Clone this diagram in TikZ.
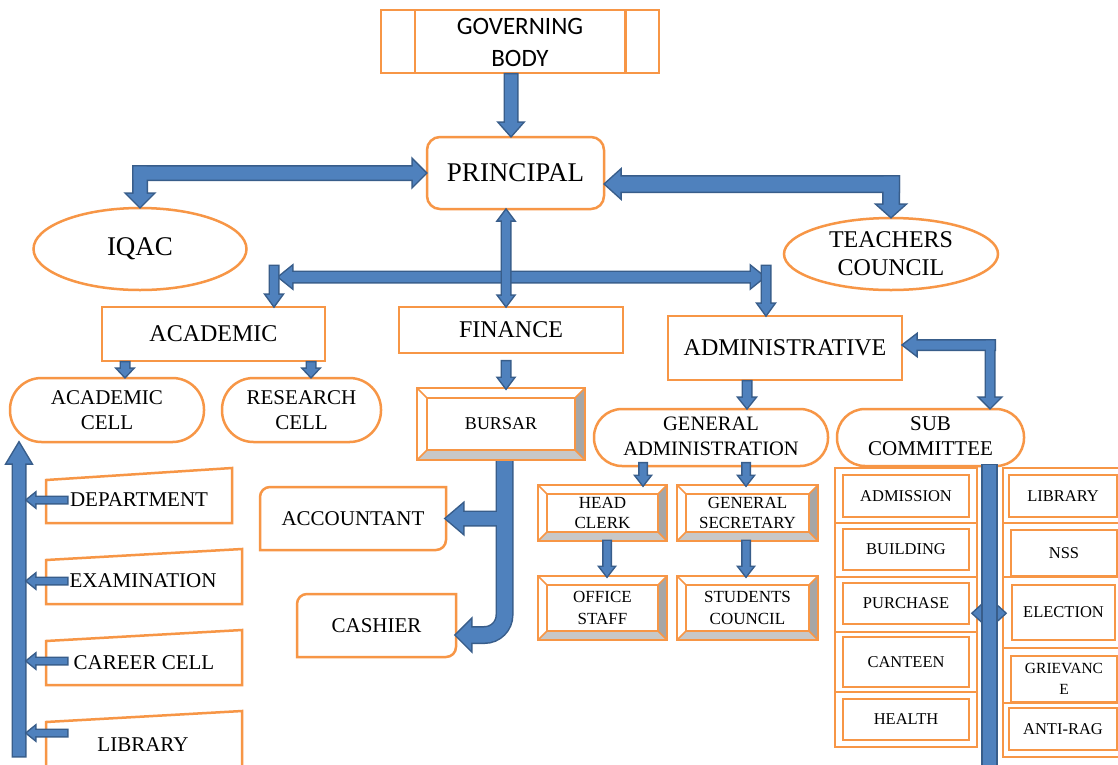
\documentclass[tikz,border=0pt]{standalone}
\usepackage{fontspec}
\setmainfont{Liberation Serif}
\newfontfamily\gbfont{Carlito}
\usetikzlibrary{calc,shapes.geometric}
\definecolor{orl}{HTML}{F79646}
\definecolor{afill}{HTML}{4F81BD}
\definecolor{aline}{HTML}{385D8A}
\definecolor{gdark}{HTML}{A6A6A6}
\definecolor{glight}{HTML}{C8C8C8}
\newcommand\fsz[2]{\fontsize{#1}{#2}\selectfont}
% block arrow: [opts]{start}{end}{half shaft}{half head}{head length}
\newcommand\barrow[6][]{%
 \coordinate (baA) at (#2); \coordinate (baB) at (#3);
 \coordinate (baH) at ($(baB)!#6!(baA)$);
 \path[#1] ($(baA)!#4!90:(baB)$) -- ($(baH)!#4!90:(baB)$) -- ($(baH)!#5!90:(baB)$) -- (baB)
   -- ($(baH)!#5!-90:(baB)$) -- ($(baH)!#4!-90:(baB)$) -- ($(baA)!#4!-90:(baB)$) -- cycle;}
\newcommand\bdarrow[6][]{%
 \coordinate (baA) at (#2); \coordinate (baB) at (#3);
 \coordinate (baH) at ($(baB)!#6!(baA)$);
 \coordinate (baG) at ($(baA)!#6!(baB)$);
 \path[#1] (baA) -- ($(baG)!#5!90:(baB)$) -- ($(baG)!#4!90:(baB)$) -- ($(baH)!#4!90:(baB)$)
   -- ($(baH)!#5!90:(baB)$) -- (baB) -- ($(baH)!#5!-90:(baB)$) -- ($(baH)!#4!-90:(baB)$)
   -- ($(baG)!#4!-90:(baB)$) -- ($(baG)!#5!-90:(baB)$) -- cycle;}
\newcommand\sarrow[5]{\barrow[aout]{#1}{#2}{#3}{#4}{#5}\barrow[ain]{#1}{#2}{#3}{#4}{#5}}
\newcommand\dsarrow[5]{\bdarrow[aout]{#1}{#2}{#3}{#4}{#5}\bdarrow[ain]{#1}{#2}{#3}{#4}{#5}}
% bevel frame around a node
\newcommand\bevel[2]{%
 \fill[gdark] (#1.north east) -- (#1.south east) -- ($(#1.south east)+(-#2,-#2)$) -- ($(#1.north east)+(-#2,#2)$) -- cycle;
 \fill[glight] (#1.south west) -- (#1.south east) -- ($(#1.south east)+(-#2,-#2)$) -- ($(#1.south west)+(#2,-#2)$) -- cycle;
 \draw[ol] (#1.north west) rectangle (#1.south east);
 \draw[ol] ($(#1.north west)+(#2,#2)$) rectangle ($(#1.south east)+(-#2,-#2)$);
 \draw[orl, line width=1.5pt] (#1.north west) -- ($(#1.north west)+(#2,#2)$)
   (#1.north east) -- ($(#1.north east)+(-#2,#2)$)
   (#1.south east) -- ($(#1.south east)+(-#2,-#2)$)
   (#1.south west) -- ($(#1.south west)+(#2,-#2)$);}
% rectangle with rounded top-left and bottom-right corners
\newcommand\diagshape[2]{%
 \draw[ol] ($(#1.north west)+(0,#2)$) arc[start angle=180, end angle=90, radius=#2pt] -- (#1.north east)
   -- ($(#1.south east)+(0,-#2)$) arc[start angle=0, end angle=-90, radius=#2pt] -- (#1.south west) -- cycle;}
\tikzset{
 ol/.style={draw=orl, line width=2.5pt},
 box/.style={draw=orl, line width=2.5pt, rectangle, inner sep=0pt, align=center},
 stad/.style={box, rounded corners=#1},
 ell/.style={draw=orl, line width=2.5pt, ellipse, inner sep=0pt, align=center},
 plain/.style={rectangle, inner sep=0pt, outer sep=0pt, align=center},
 aout/.style={draw=aline, line width=3pt},
 ain/.style={fill=afill},
 subi/.style={box, font={\fsz{16.5}{20}}},
}
\begin{document}
\begin{tikzpicture}[x=1pt,y=-1pt]
\useasboundingbox (0,0) rectangle (1118,764);
\clip (0,0) rectangle (1118,764);
\fill[white] (0,0) rectangle (1118,764);

% ---------- top ----------
\node[box, minimum width=278pt, minimum height=63pt, font={\gbfont\fsz{25}{32}}, text depth=0pt] (gb) at (520,41.5) {\raisebox{-2pt}{GOVERNING}\\\raisebox{-2pt}{BODY}};
\draw[ol] ($(gb.north west)+(35,1.25)$) -- ($(gb.south west)+(35,-1.25)$);
\draw[ol] ($(gb.north east)+(-35,1.25)$) -- ($(gb.south east)+(-35,-1.25)$);
\node[stad=13pt, minimum width=177pt, minimum height=72pt, font={\fsz{27}{30}}] (pr) at (515.5,173) {PRINCIPAL};
\node[ell, minimum width=213pt, minimum height=82pt, font={\fsz{27}{30}}] (iqac) at (140,249) {IQAC};
\node[ell, minimum width=214pt, minimum height=72pt, font={\fsz{24}{28}}] (tc) at (891,254) {TEACHERS\\COUNCIL};

% ---------- second level ----------
\node[box, minimum width=223pt, minimum height=54pt, font={\fsz{24}{28}}] (ac) at (213.5,334) {ACADEMIC};
\node[box, minimum width=224pt, minimum height=46pt, font={\fsz{24}{28}}] (fin) at (511,330) {FINANCE};
\node[box, minimum width=234pt, minimum height=64pt, font={\fsz{24}{28}}] (adm) at (785,348) {ADMINISTRATIVE};

\node[stad=31.5pt, minimum width=194pt, minimum height=64pt, font={\fsz{21}{25}}] (acell) at (107,410) {ACADEMIC\\CELL};
\node[stad=31.5pt, minimum width=159pt, minimum height=64pt, font={\fsz{21}{25}}] (rcell) at (301.5,410) {RESEARCH\\CELL};
\node[stad=28pt, minimum width=234pt, minimum height=57pt, font={\fsz{20.5}{25}}] (ga) at (711,437.5) {\raisebox{3pt}{GENERAL}\\\raisebox{3pt}{ADMINISTRATION}};
\node[stad=28pt, minimum width=187pt, minimum height=57pt, font={\fsz{21}{25}}] (sc) at (930.5,437.5) {\raisebox{3pt}{SUB}\\\raisebox{3pt}{COMMITTEE}};

% ---------- finance ----------
\node[plain, minimum width=168pt, minimum height=72pt, font={\fsz{18}{22}}] (bur) at (501,424) {BURSAR};
\bevel{bur}{10}
\node[plain, minimum width=186pt, minimum height=63pt, font={\fsz{21}{25}}] (acc) at (353,518.5) {ACCOUNTANT};
\diagshape{acc}{10}
\node[plain, minimum width=159pt, minimum height=63pt, font={\fsz{21}{25}}] (cash) at (376.5,625.5) {CASHIER};
\diagshape{cash}{10}

% ---------- general administration ----------
\node[plain, minimum width=129pt, minimum height=56pt, font={\fsz{17}{20}}] (hc) at (602.5,513) {HEAD\\CLERK};
\bevel{hc}{9}
\node[plain, minimum width=141pt, minimum height=56pt, font={\fsz{17}{20}}] (gs) at (747.5,513) {GENERAL\\SECRETARY};
\bevel{gs}{9}
\node[plain, minimum width=129pt, minimum height=64pt, font={\fsz{17}{22}}] (os) at (602.5,608) {OFFICE\\STAFF};
\bevel{os}{9}
\node[plain, minimum width=141pt, minimum height=64pt, font={\fsz{17}{22}}] (stc) at (747.5,608) {STUDENTS\\COUNCIL};
\bevel{stc}{9}

% ---------- sub committees ----------
\foreach \a/\b in {468/523,523/577,577/632,632/692,692/747} \draw[ol] (835,\a) rectangle (977,\b);
\foreach \a/\b in {468/523,523/577,577/648,648/703,703/757} \draw[ol] (1003,\a) rectangle (1130,\b);
\node[subi, minimum width=126pt, minimum height=42pt] (l1) at (906,496) {ADMISSION};
\node[subi, minimum width=126pt, minimum height=41pt] (l2) at (906,549.5) {BUILDING};
\node[subi, minimum width=126pt, minimum height=41pt] (l3) at (906,603.5) {PURCHASE};
\node[subi, minimum width=126pt, minimum height=50pt] (l4) at (906,662) {CANTEEN};
\node[subi, minimum width=126pt, minimum height=41pt] (l5) at (906,719.5) {HEALTH};
\node[subi, minimum width=108pt, minimum height=42pt] (r1) at (1063,496) {LIBRARY};
\node[subi, minimum width=106pt, minimum height=46pt] (r2) at (1064,553) {NSS};
\node[subi, minimum width=103pt, minimum height=55pt] (r3) at (1063.5,612.5) {ELECTION};
\node[subi, minimum width=106pt, minimum height=46pt, font={\fsz{15.5}{21}}] (r4) at (1064,679) {GRIEVANC\\E};
\node[subi, minimum width=108pt, minimum height=42pt] (r5) at (1063,729) {ANTI-RAG};

% ---------- academic list ----------
\draw[ol] (46,480) -- (232,468) -- (232,523) -- (46,523) -- cycle;
\draw[ol] (46,560) -- (242,549) -- (242,604) -- (46,604) -- cycle;
\draw[ol] (46,641) -- (242,630) -- (242,685) -- (46,685) -- cycle;
\draw[ol] (46,722) -- (242,711) -- (242,790) -- (46,790) -- cycle;
\node[plain, font={\fsz{21}{25}}] (dept) at (139,500) {DEPARTMENT};
\node[plain, font={\fsz{21}{25}}] (exam) at (143,581) {EXAMINATION};
\node[plain, font={\fsz{21}{25}}] (career) at (144,663) {CAREER CELL};
\node[plain, font={\fsz{21}{25}}] (llib) at (143,745) {LIBRARY};

% ---------- connectors ----------
% governing body -> principal
\coordinate (gx) at ($(gb.south)+(-9,0)$);
\sarrow{gx}{gx |- pr.north}{6pt}{11.5pt}{13pt}

% principal <-> IQAC
\coordinate (c1) at (iqac.north |- pr.west);
\barrow[aout]{$(c1)+(-6.5,0)$}{pr.west}{6.5pt}{13pt}{13pt}
\barrow[aout]{$(c1)+(0,-6.5)$}{iqac.north}{6.5pt}{13pt}{13pt}
\barrow[ain]{$(c1)+(-6.5,0)$}{pr.west}{6.5pt}{13pt}{13pt}
\barrow[ain]{$(c1)+(0,-6.5)$}{iqac.north}{6.5pt}{13pt}{13pt}

% principal <-> teachers council
\coordinate (c2) at ($(tc.north |- pr.east)+(0,11)$);
\barrow[aout]{$(c2)+(7.5,0)$}{$(pr.east)+(0,11)$}{7.5pt}{13.5pt}{15pt}
\barrow[aout]{$(c2)+(0,-7.5)$}{tc.north}{7.5pt}{13.5pt}{12pt}
\barrow[ain]{$(c2)+(7.5,0)$}{$(pr.east)+(0,11)$}{7.5pt}{13.5pt}{15pt}
\barrow[ain]{$(c2)+(0,-7.5)$}{tc.north}{7.5pt}{13.5pt}{12pt}

% horizontal distribution bar
\coordinate (dL) at (274,266);
\coordinate (dR) at (766,266);
\dsarrow{$(dL)+(5,11)$}{$(dR)+(-2,11)$}{5pt}{10.5pt}{13pt}
\sarrow{dL}{dL |- ac.north}{4pt}{8pt}{11pt}
\sarrow{dR}{dR |- adm.north}{4pt}{8pt}{11pt}
\coordinate (vx) at ($(pr.south)+(-9.5,0)$);
\dsarrow{vx}{vx |- fin.north}{4pt}{7.5pt}{10pt}

% academic -> cells
\coordinate (a1) at ($(ac.south)+(-88.5,0)$);
\coordinate (a2) at ($(ac.south)+(97.5,0)$);
\sarrow{a1}{a1 |- acell.north}{4pt}{7.5pt}{8pt}
\sarrow{a2}{a2 |- rcell.north}{4pt}{7.5pt}{8pt}

% finance -> bursar
\coordinate (fx) at ($(fin.south)+(-5,7)$);
\sarrow{fx}{fx |- bur.north}{4pt}{7.5pt}{10pt}

% bursar -> accountant, cashier
\coordinate (bs) at ($(bur.south)+(3.5,1)$);
\coordinate (ct) at ($(cash.east)+(0,9.5)$);
\coordinate (cb) at ($(ct)+(15,0)$);
\draw[aline, line width=18pt, rounded corners=20pt] (bs) |- (cb);
\barrow[aout]{cb}{ct}{7.5pt}{15pt}{15pt}
\barrow[aout]{bs |- acc.east}{acc.east}{6.5pt}{14.5pt}{17pt}
\draw[afill, line width=15pt, rounded corners=20pt] (bs) |- (cb);
\barrow[ain]{cb}{ct}{7.5pt}{15pt}{15pt}
\barrow[ain]{bs |- acc.east}{acc.east}{6.5pt}{14.5pt}{17pt}

% administrative -> general administration
\coordinate (ax) at ($(adm.south)+(-38,0)$);
\sarrow{ax}{ax |- ga.north}{4pt}{8pt}{10pt}

% administrative <-> sub committee
\coordinate (c3x) at ($(sc.north)+(59.5,0)$);
\coordinate (c3) at ($(c3x |- adm.east)+(0,-3)$);
\barrow[aout]{$(c3)+(4.5,0)$}{$(adm.east)+(0,-3)$}{4.5pt}{10pt}{13pt}
\barrow[aout]{$(c3)+(0,-4.5)$}{c3x}{4pt}{10pt}{10pt}
\barrow[ain]{$(c3)+(4.5,0)$}{$(adm.east)+(0,-3)$}{4.5pt}{10pt}{13pt}
\barrow[ain]{$(c3)+(0,-4.5)$}{c3x}{4pt}{10pt}{10pt}

% general administration tree
\coordinate (g1) at ($(ga.south)+(-68,-4)$);
\coordinate (g2) at ($(ga.south)+(35,-4)$);
\sarrow{g1}{g1 |- hc.north}{3.5pt}{7pt}{9pt}
\sarrow{g2}{g2 |- gs.north}{3.5pt}{7pt}{9pt}
\coordinate (h1) at ($(hc.south)+(4.5,0)$);
\coordinate (h2) at ($(gs.south)+(-1.5,0)$);
\sarrow{h1}{h1 |- os.north}{3.5pt}{7pt}{9pt}
\sarrow{h2}{h2 |- stc.north}{3.5pt}{7pt}{9pt}

% sub committee bar
\coordinate (sbar) at ($(sc.south)+(59,-3)$);
\coordinate (sdl) at ($(sbar)+(-16.5,149)$);
\coordinate (sdr) at ($(sbar)+(15.5,149)$);
\dsarrow{sdl}{sdr}{3pt}{10pt}{11pt}
\draw[fill=afill, draw=aline, line width=1.5pt] ($(sbar)+(-7.5,0)$) rectangle ($(sbar)+(7.5,320)$);

% academic list bar
\coordinate (lbar) at (19,756);
\sarrow{lbar}{lbar |- acell.south}{6pt}{12pt}{20pt}
\sarrow{$(lbar |- dept)+(48,0)$}{$(lbar |- dept)+(8,0)$}{3pt}{6.5pt}{8pt}
\sarrow{$(lbar |- exam)+(48,0)$}{$(lbar |- exam)+(8,0)$}{3pt}{6.5pt}{8pt}
\sarrow{$(lbar |- career)+(48,-2)$}{$(lbar |- career)+(8,-2)$}{3pt}{6.5pt}{8pt}
\sarrow{$(lbar |- llib)+(48,-12)$}{$(lbar |- llib)+(8,-12)$}{3pt}{6.5pt}{8pt}
\end{tikzpicture}
\end{document}
